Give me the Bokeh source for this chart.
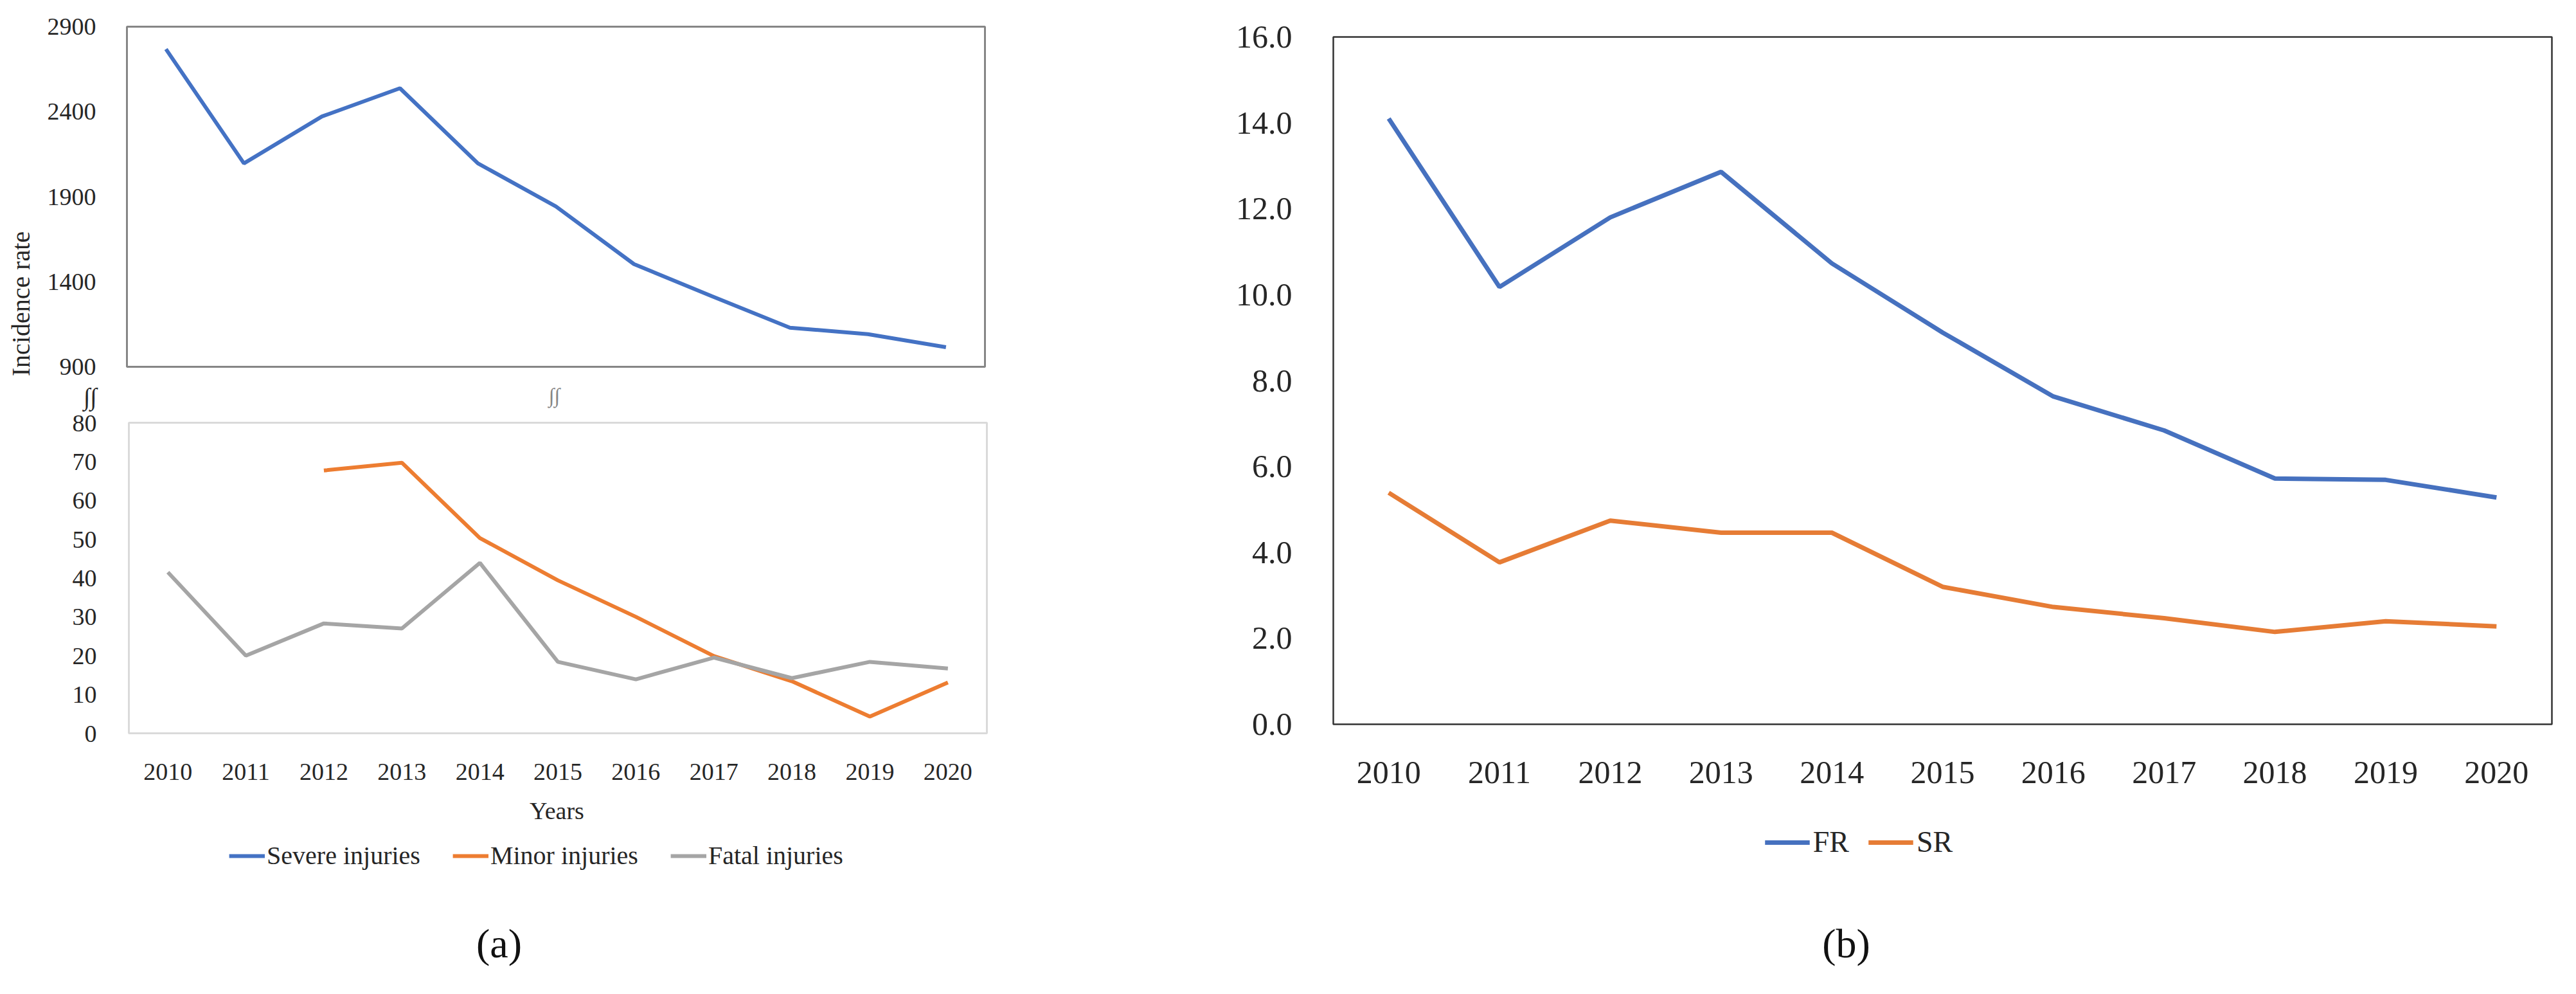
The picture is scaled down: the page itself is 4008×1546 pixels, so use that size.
import math
from bokeh.plotting import figure
from bokeh.models import (Range1d, FixedTicker, Label, Legend, LegendItem,
                          PrintfTickFormatter, BoxAnnotation)
from bokeh.layouts import row, column
from bokeh.embed import file_html
from bokeh.resources import INLINE

# ---------------- data ----------------
years = [2010, 2011, 2012, 2013, 2014, 2015, 2016, 2017, 2018, 2019, 2020]
severe_injuries = [2768, 2096, 2372, 2538, 2096, 1843, 1504, 1315, 1130, 1092, 1015]
minor_injuries = [float("nan"), float("nan"), 67.7, 69.7, 50.3, 39.4, 30.0, 19.9, 13.4, 4.3, 13.1]
fatal_injuries = [41.5, 20.0, 28.3, 27.0, 43.9, 18.4, 13.9, 19.5, 14.2, 18.4, 16.7]
fr_values = [14.1, 10.18, 11.8, 12.86, 10.73, 9.12, 7.63, 6.84, 5.72, 5.69, 5.28]
sr_values = [5.39, 3.77, 4.74, 4.46, 4.46, 3.2, 2.73, 2.47, 2.15, 2.4, 2.28]
top_a_ticks = [900, 1400, 1900, 2400, 2900]
bottom_a_ticks = [0, 10, 20, 30, 40, 50, 60, 70, 80]
b_ticks = [0, 2, 4, 6, 8, 10, 12, 14, 16]
legend_a_labels = ["Severe injuries", "Minor injuries", "Fatal injuries"]
legend_b_labels = ["FR", "SR"]

SERIF = "Liberation Serif"
BLUE, ORANGE, GRAY = "#4472C4", "#ED7D31", "#A5A5A5"
BLUE_B, ORANGE_B = "#4671BF", "#E67C35"
TXT = "#262626"
FRAME_A = "#868686"
M = 8                      # page margin
XR = (2009.5, 2020.5)
PAGE_BOTTOM = 1538
LEFT_W, RIGHT_W = 1880, 2112
STRIP_W = 60
NAN2 = [float("nan"), float("nan")]


def blank(p):
    p.outline_line_color = None
    p.xgrid.visible = False
    p.ygrid.visible = False
    p.border_fill_color = "white"
    p.background_fill_color = "white"


def style_axis(ax, size, standoff):
    ax.axis_line_color = None
    ax.major_tick_line_color = None
    ax.minor_tick_line_color = None
    ax.major_tick_out = 0
    ax.major_tick_in = 0
    ax.major_label_standoff = standoff
    ax.major_label_text_font = SERIF
    ax.major_label_text_font_size = size
    ax.major_label_text_color = TXT


def page_fig(x0, x1, y_top, y_bot):
    """Figure whose frame is its whole canvas; data units = page pixels."""
    p = figure(output_backend="svg", toolbar_location=None,
               frame_width=int(x1 - x0), frame_height=int(y_bot - y_top),
               min_border_left=0, min_border_right=0, min_border_top=0, min_border_bottom=0,
               x_range=Range1d(x0, x1), y_range=Range1d(y_bot, y_top),
               x_axis_location=None, y_axis_location=None)
    blank(p)
    return p


def centred_strip(x0, x1, centre, y_top, y_bot):
    """Row of two page figures; the returned main one has its frame centred on `centre`."""
    if centre >= (x0 + x1) / 2:
        split = int(2 * centre - x1)
        fill = page_fig(x0, split, y_top, y_bot)
        main = page_fig(split, x1, y_top, y_bot)
        return main, row(fill, main, spacing=0)
    split = int(2 * centre - x0)
    main = page_fig(x0, split, y_top, y_bot)
    fill = page_fig(split, x1, y_top, y_bot)
    return main, row(main, fill, spacing=0)


def text(p, x, y, s, size, color=TXT, angle=0.0, font=SERIF):
    p.add_layout(Label(x=x, y=y, text=s, angle=angle, text_align="center",
                       text_baseline="middle", text_font=font, text_font_size=size,
                       text_color=color))


# ================= panel (a) =================
COL_X0 = M + STRIP_W
COL_X1 = M + LEFT_W
A_LEFT, A_W = 205, 1335
T_TOP, T_H = 49, 529
B_TOP, B_H = 665, 483
CAP_A_TOP = 1244
top_yr = (900, 2900)

strip = page_fig(M, COL_X0, M, PAGE_BOTTOM)
text(strip, 40, 480, "Incidence rate", "40px", angle=math.pi / 2)

# ---- top chart ----
pt_bottom_border = 25
pt = figure(output_backend="svg", toolbar_location=None,
            frame_width=A_W, frame_height=T_H,
            min_border_left=A_LEFT - COL_X0, min_border_right=COL_X1 - A_LEFT - A_W,
            min_border_top=T_TOP - M, min_border_bottom=pt_bottom_border,
            x_range=Range1d(*XR), y_range=Range1d(*top_yr), x_axis_location=None)
blank(pt)
pt.outline_line_color = FRAME_A
pt.outline_line_width = 3
style_axis(pt.yaxis[0], "38px", 48)
pt.yaxis[0].ticker = FixedTicker(ticks=top_a_ticks)
pt.yaxis[0].formatter = PrintfTickFormatter(format="%d")
pt.line(years, severe_injuries, line_color=BLUE, line_width=6)

# ---- bottom chart (frame extended upward to hold the axis-break marks) ----
pb_canvas_top = T_TOP + T_H + pt_bottom_border
pad = 3
per_px_y = 80.0 / B_H
per_px_x = (XR[1] - XR[0]) / A_W
pb_yr = (0 - pad * per_px_y, 80 + (B_TOP - pb_canvas_top) * per_px_y)
pb_xr = (XR[0] - pad * per_px_x, XR[1] + pad * per_px_x)
pb_frame_w = A_W + 2 * pad
pb_frame_h = (B_TOP - pb_canvas_top) + B_H + pad
pb_left = A_LEFT - pad
pb = figure(output_backend="svg", toolbar_location=None,
            frame_width=pb_frame_w, frame_height=pb_frame_h,
            min_border_left=pb_left - COL_X0, min_border_right=COL_X1 - pb_left - pb_frame_w,
            min_border_top=0, min_border_bottom=CAP_A_TOP - (B_TOP + B_H + pad),
            x_range=Range1d(*pb_xr), y_range=Range1d(*pb_yr))
blank(pb)
pb.add_layout(BoxAnnotation(left=XR[0], right=XR[1], bottom=0, top=80,
                            fill_alpha=0, line_color=FRAME_A, line_width=3))
style_axis(pb.yaxis[0], "38px", 50 - pad)
break_tick = round(80 + (B_TOP - 624) * per_px_y)
pb.yaxis[0].ticker = FixedTicker(ticks=bottom_a_ticks + [break_tick])
pb.yaxis[0].major_label_overrides = {break_tick: "∫∫"}
style_axis(pb.xaxis[0], "38px", 44)
pb.xaxis[0].ticker = FixedTicker(ticks=years)
pb.xaxis[0].formatter = PrintfTickFormatter(format="%d")
pb.line(years, minor_injuries, line_color=ORANGE, line_width=6)
pb.line(years, fatal_injuries, line_color=GRAY, line_width=6)
text(pb, XR[0] + (867 - A_LEFT) * per_px_x, 80 + (B_TOP - 622) * per_px_y, "∫∫", "32px",
     color=FRAME_A)

# ---- caption area of (a) ----
cap_a, cap_a_row = centred_strip(COL_X0, COL_X1, 842, CAP_A_TOP, PAGE_BOTTOM)
text(cap_a, 874, 1268, "Years", "38px")
text(cap_a, 784, 1475, "(a)", "64px", color="#111111")
leg_rs = [cap_a.line(x=NAN2, y=NAN2, line_color=c, line_width=6) for c in (BLUE, ORANGE, GRAY)]
cap_a.add_layout(Legend(items=[LegendItem(label=l, renderers=[r]) for l, r in zip(legend_a_labels, leg_rs)],
                        orientation="horizontal", location="top_center",
                        glyph_width=56, glyph_height=40, label_height=40, label_standoff=3,
                        spacing=50, label_text_font=SERIF, label_text_font_size="40px",
                        label_text_color=TXT, border_line_color=None,
                        background_fill_alpha=0, margin=71, padding=0))

left_col = row(strip, column(pt, pb, cap_a_row, spacing=0), spacing=0)

# ================= panel (b) =================
R_X0 = M + LEFT_W
R_X1 = R_X0 + RIGHT_W
R_LEFT, R_W = 2082, 1896
R_TOP, R_H = 65, 1069
R_CAP_TOP = 1258
r_yr = (0, 16)
pr = figure(output_backend="svg", toolbar_location=None,
            frame_width=R_W, frame_height=R_H,
            min_border_left=R_LEFT - R_X0, min_border_right=R_X1 - R_LEFT - R_W,
            min_border_top=R_TOP - M, min_border_bottom=R_CAP_TOP - (R_TOP + R_H),
            x_range=Range1d(*XR), y_range=Range1d(*r_yr))
blank(pr)
pr.outline_line_color = "#333333"
pr.outline_line_width = 2.5
style_axis(pr.yaxis[0], "50px", 64)
pr.yaxis[0].ticker = FixedTicker(ticks=b_ticks)
pr.yaxis[0].formatter = PrintfTickFormatter(format="%.1f")
style_axis(pr.xaxis[0], "50px", 58)
pr.xaxis[0].ticker = FixedTicker(ticks=years)
pr.xaxis[0].formatter = PrintfTickFormatter(format="%d")
pr.line(years, fr_values, line_color=BLUE_B, line_width=7)
pr.line(years, sr_values, line_color=ORANGE_B, line_width=7)

cap_b, cap_b_row = centred_strip(R_X0, R_X1, 2900, R_CAP_TOP, PAGE_BOTTOM)
text(cap_b, 2880, 1475, "(b)", "64px", color="#111111")
leg_rb = [cap_b.line(x=NAN2, y=NAN2, line_color=c, line_width=7) for c in (BLUE_B, ORANGE_B)]
cap_b.add_layout(Legend(items=[LegendItem(label=l, renderers=[r]) for l, r in zip(legend_b_labels, leg_rb)],
                        orientation="horizontal", location="top_center",
                        glyph_width=70, glyph_height=46, label_height=46, label_standoff=5,
                        spacing=30, label_text_font=SERIF, label_text_font_size="46px",
                        label_text_color=TXT, border_line_color=None,
                        background_fill_alpha=0, margin=33, padding=0))

right_col = column(pr, cap_b_row, spacing=0)

layout = row(left_col, right_col, spacing=0)
open("out.html", "w").write(file_html(layout, INLINE))
